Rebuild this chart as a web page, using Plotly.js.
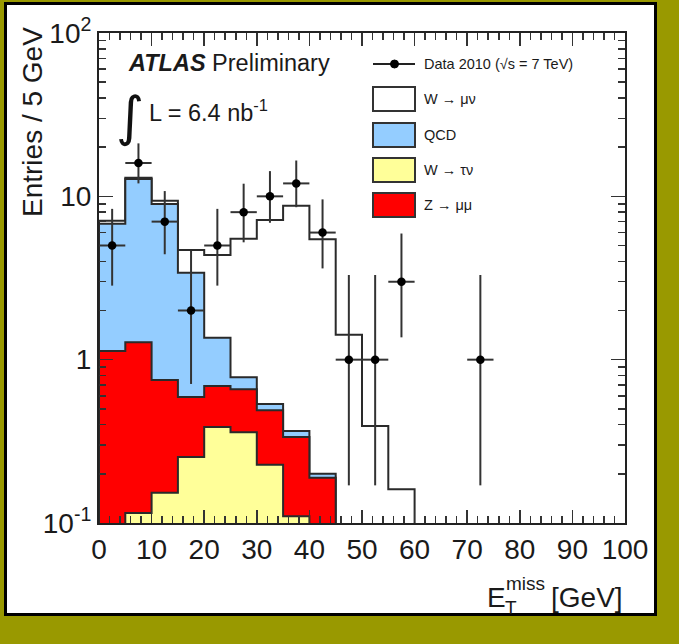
<!DOCTYPE html>
<html><head><meta charset="utf-8">
<script src="https://cdn.plot.ly/plotly-3.0.1.min.js"></script>
<style>
html,body{margin:0;padding:0;background:#999900;width:679px;height:644px;overflow:hidden}
#frame{position:absolute;left:4px;top:2px;width:653px;height:614px;box-sizing:border-box;background:#fff;border:3px solid #000}
#chart{position:absolute;left:0;top:0;width:679px;height:644px}
</style></head><body>
<div id="frame"></div><div id="chart"></div>
<script>
// ---- data ----
const binEdges = [0,5,10,15,20,25,30,35,40,45,50,55,60,65,70,75,80,85,90,95,100];
const binCenters = [2.5,7.5,12.5,17.5,22.5,27.5,32.5,37.5,42.5,47.5,52.5,57.5,62.5,67.5,72.5,77.5,82.5,87.5,92.5,97.5];
const wTauNu = [0.05,0.115,0.153,0.254,0.387,0.36,0.227,0.11,0.05,0,0,0,0,0,0,0,0,0,0,0];
const zMuMu  = [1.08,1.165,0.597,0.336,0.303,0.30,0.263,0.226,0.139,0,0,0,0,0,0,0,0,0,0,0];
const qcd    = [5.67,11.47,8.23,2.81,0.67,0.12,0.045,0.03,0.011,0,0,0,0,0,0,0,0,0,0,0];
const wMuNu  = [0.30,0.25,0.42,1.30,3.02,4.72,6.63,8.40,5.26,1.42,0.393,0.161,0,0,0,0,0,0,0,0];
const dataCounts = [5,16,7,2,5,8,10,12,6,1,1,3,0,0,1,0,0,0,0,0];
const dataErrHigh = [3.38,5.1,3.77,2.64,3.38,3.95,4.27,4.57,3.58,2.3,2.3,2.92,0,0,2.3,0,0,0,0,0];
const dataErrLow  = [2.16,4.0,2.58,1.29,2.16,2.77,3.11,3.42,2.38,0.83,0.83,1.63,0,0,0.83,0,0,0,0,0];
const yTickVals = [0.1,1,10,100];
const yTickText = ['10<sup>-1</sup>','1','10','10<sup>2</sup>'];
const xTickVals = [0,10,20,30,40,50,60,70,80,90,100];

// ---- stacking ----
const cumYellow = wTauNu.slice();
const cumRed = cumYellow.map((v,i)=>v+zMuMu[i]);
const cumBlue = cumRed.map((v,i)=>v+qcd[i]);
const cumTotal = cumBlue.map((v,i)=>v+wMuNu[i]);

function stepPoly(vals){
  const floor = 1e-3;
  const xs=[binEdges[0]], ys=[floor];
  vals.forEach((v,i)=>{ const y=Math.max(v,floor); xs.push(binEdges[i],binEdges[i+1]); ys.push(y,y); });
  xs.push(binEdges[binEdges.length-1]); ys.push(floor);
  return {x:xs,y:ys};
}
const lineCol = '#2a2a2a';
function layer(vals,fill){
  const p=stepPoly(vals);
  return {x:p.x,y:p.y,type:'scatter',mode:'lines',fill:'toself',fillcolor:fill,
          line:{color:lineCol,width:2},hoverinfo:'skip',showlegend:false};
}
const traces = [
  layer(cumTotal,'#ffffff'),
  layer(cumBlue,'#94cdff'),
  layer(cumRed,'#ff0000'),
  layer(cumYellow,'#ffff99')
];
const dX=[],dY=[],dH=[],dL=[];
dataCounts.forEach((c,i)=>{ if(c>0){dX.push(binCenters[i]);dY.push(c);dH.push(dataErrHigh[i]);dL.push(dataErrLow[i]);} });
traces.push({x:dX,y:dY,type:'scatter',mode:'markers',marker:{color:'#000',size:8.5},
  error_y:{type:'data',symmetric:false,array:dH,arrayminus:dL,width:0,thickness:2,color:'#333'},
  error_x:{type:'constant',value:2.5,width:0,thickness:2,color:'#333'},showlegend:false,cliponaxis:true});

// ---- layout helpers ----
const L=99,R=625,T=33,B=523;
const px=x=>(x-L)/(R-L), py=y=>(B-y)/(B-T);
const ann=[], shp=[];
function txt(t,x,y,size,xa,extra){ann.push(Object.assign({text:t,x:px(x),y:py(y),xref:'paper',yref:'paper',showarrow:false,xanchor:xa||'left',yanchor:'middle',font:{size:size,color:'#1a1a1a'}},extra||{}));}

txt('<b><i>ATLAS</i></b> Preliminary',126,63,23.5);
txt('∫',114,116,54,'left',{font:{size:54,color:'#111',family:'DejaVu Sans'}});
txt('L = 6.4 nb<sup>-1</sup>',147,111,23.5);
// legend
const lx0=373,lx1=415,tx=422;
shp.push({type:'line',xref:'paper',yref:'paper',x0:px(lx0),x1:px(lx1),y0:py(64),y1:py(64),line:{color:'#222',width:2}});
shp.push({type:'circle',xref:'paper',yref:'paper',x0:px(390.5),x1:px(398.5),y0:py(60),y1:py(68),fillcolor:'#000',line:{color:'#000',width:1}});
txt('Data 2010 (√s = 7 TeV)',tx,64,14.5);
const legItems=[['W → μν','#ffffff',99],['QCD','#94cdff',135],['W → τν','#ffff99',170],['Z → μμ','#ff0000',205]];
legItems.forEach(([t,c,y])=>{
  shp.push({type:'rect',xref:'paper',yref:'paper',x0:px(lx0),x1:px(lx1),y0:py(y-12),y1:py(y+12),fillcolor:c,line:{color:'#333',width:2}});
  txt(t,tx,y,14.5);
});
// axis titles
txt('Entries / 5 GeV',33,122,28,'center',{textangle:-90});
txt('[GeV]',625,597,28,'right');
txt('E',485,597,28,'left');
txt('T',503,607,19,'left');
txt('miss',504,583,19,'left');

const minorY=[];
[0.1,1,10].forEach(d=>{for(let k=2;k<=9;k++)minorY.push(d*k);});

const layout = {
  width:679,height:644,
  margin:{l:L,r:679-R,t:T,b:644-B,pad:0},
  paper_bgcolor:'rgba(0,0,0,0)',plot_bgcolor:'rgba(0,0,0,0)',
  font:{family:'Liberation Sans, Arial, sans-serif',color:'#1a1a1a'},
  showlegend:false,
  xaxis:{range:[0,100],tickmode:'array',tickvals:xTickVals,ticks:'inside',ticklen:13,tickwidth:1.5,tickcolor:'#333',
    mirror:'allticks',showline:true,linecolor:'#222',linewidth:2,showgrid:false,zeroline:false,
    tickfont:{size:28,color:'#1a1a1a'},
    minor:{ticks:'inside',ticklen:7,dtick:2,tick0:0,tickwidth:1.5,tickcolor:'#333',showgrid:false}},
  yaxis:{type:'log',range:[-1,2],tickmode:'array',tickvals:yTickVals,ticktext:yTickText,ticks:'inside',ticklen:14,tickwidth:1.5,tickcolor:'#333',
    mirror:'allticks',showline:true,linecolor:'#222',linewidth:2,showgrid:false,zeroline:false,
    tickfont:{size:28,color:'#1a1a1a'},
    minor:{ticks:'inside',ticklen:7,tickmode:'array',tickvals:minorY,tickwidth:1.5,tickcolor:'#333',showgrid:false}},
  annotations:ann,shapes:shp
};
Plotly.newPlot('chart',traces,layout,{staticPlot:true,displayModeBar:false});
</script></body></html>
